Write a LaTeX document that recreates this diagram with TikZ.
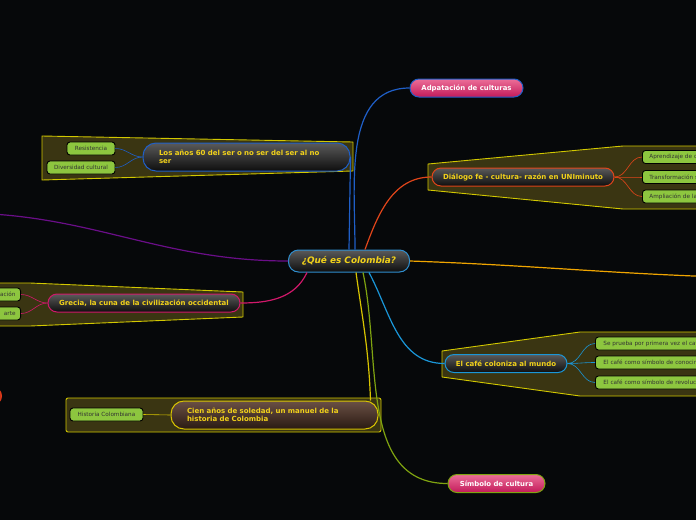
\documentclass[tikz,border=0pt]{standalone}
\usepackage{fontspec}
\setmainfont{DejaVu Sans}
\usepackage{xcolor}
\definecolor{bgblack}{HTML}{06080A}
\definecolor{frameolive}{HTML}{3A3512}
\definecolor{frameyellow}{HTML}{D2C800}
\definecolor{nodetop}{HTML}{5A5A5A}
\definecolor{nodebot}{HTML}{0E0E0E}
\definecolor{cientop}{HTML}{6A5045}
\definecolor{cienbot}{HTML}{2A1A12}
\definecolor{topictext}{HTML}{F2D21A}
\definecolor{leafgreen}{HTML}{8DC63F}
\definecolor{leaftext}{HTML}{333333}
\definecolor{pinktop}{HTML}{EC6E98}
\definecolor{pinkbot}{HTML}{C21A5A}
\definecolor{centerblue}{HTML}{2F8FD0}
\definecolor{adaptblue}{HTML}{1F5FC8}
\definecolor{dialogred}{HTML}{E0451A}
\definecolor{grecmagenta}{HTML}{D0186A}
\definecolor{cienyellow}{HTML}{D8C400}
\definecolor{cafeblue}{HTML}{1A96D8}
\definecolor{simbgreen}{HTML}{7FA310}
\definecolor{purpleline}{HTML}{6A0E88}
\definecolor{orangeline}{HTML}{F0A500}
\definecolor{redstub}{HTML}{E03A1A}
\usepackage{tikz}
\usetikzlibrary{positioning, calc}

\begin{document}
\begin{tikzpicture}[x=1pt, y=-1pt]
    \tikzstyle{topic} = [rounded corners=9pt, line width=1pt, minimum height=18pt, inner xsep=10pt, top color=nodetop, bottom color=nodebot, text=topictext, font=\fontsize{7}{8.5}\selectfont\bfseries]
    \tikzstyle{pinknode} = [rounded corners=9pt, line width=1pt, minimum height=18pt, inner xsep=10pt, top color=pinktop, bottom color=pinkbot, text=white, font=\fontsize{6.9}{8}\selectfont\bfseries]
    \tikzstyle{leafnode} = [rounded corners=3pt, line width=0.9pt, draw=black, fill=leafgreen, minimum height=13pt, inner xsep=5pt, inner ysep=1pt, text=leaftext, font=\fontsize{5.7}{6.5}\selectfont]
    \tikzstyle{frame} = [draw=frameyellow, fill=frameolive, line width=0.9pt, line join=round]
    \tikzstyle{conn} = [line width=1.2pt]
    \tikzstyle{subconn} = [line width=0.6pt]

    \fill[bgblack] (0,0) rectangle (696,520);
    \useasboundingbox (0,0) rectangle (696,520);
    \clip (0,0) rectangle (696,520);

    % group frames
    \draw[frame] (42,136) -- (353,142) -- (353,171) -- (42,180) -- cycle;
    \draw[frame] (428,164) -- (623,146) -- (710,146) -- (710,209) -- (623,209) -- (428,190) -- cycle;
    \draw[frame] (-10,283) -- (30,283) -- (243,292) -- (243,317) -- (30,326) -- (-10,326) -- cycle;
    \draw[frame, rounded corners=2pt] (66,398) rectangle (381,432);
    \draw[frame] (442,351) -- (580,332) -- (710,332) -- (710,396) -- (580,396) -- (442,377) -- cycle;

    % central node
    \node [topic, draw=centerblue, minimum width=121pt, minimum height=22pt, rounded corners=10pt, font=\fontsize{8.9}{10}\selectfont\bfseries\itshape] (central) at (349,261) {¿Qué es Colombia?};

    % main topics
    \node [pinknode, draw=adaptblue, minimum width=113pt] (adapt) at (466.5,88) {Adpatación de culturas};
    \node [topic, draw=adaptblue, minimum height=28pt, rounded corners=13pt, inner xsep=16pt, text width=175pt, align=left] (anos) at (246.5,157) {Los años 60 del ser o no ser del ser al no\\ser};
    \node [topic, draw=dialogred, minimum width=182pt] (dialogo) at (523,177) {Diálogo fe - cultura- razón en UNIminuto};
    \node [topic, draw=grecmagenta, minimum width=192pt] (grecia) at (144,303) {Grecia, la cuna de la civilización occidental};
    \node [topic, draw=cienyellow, top color=cientop, bottom color=cienbot, minimum height=28pt, rounded corners=13pt, inner xsep=16pt, text width=175pt, align=left] (cien) at (274.5,415) {Cien años de soledad, un manuel de la\\historia de Colombia};
    \node [topic, draw=cafeblue, minimum width=122pt] (cafe) at (506,363.5) {El café coloniza al mundo};
    \node [pinknode, draw=simbgreen, minimum width=97pt] (simbolo) at (496.5,483.5) {Símbolo de cultura};
    \node [pinknode, draw=redstub, top color=redstub, bottom color=redstub!80!black, minimum width=60pt, anchor=east] (redtopic) at (2,396) {};

    % leaves
    \node [leafnode, minimum width=48pt] (resist) at (91,148.5) {Resistencia};
    \node [leafnode, minimum width=68pt] (divers) at (81,167.5) {Diversidad cultural};
    \node [leafnode, anchor=west, inner xsep=7pt, text width=80pt, align=left] (aprend) at (642,157) {Aprendizaje de c};
    \node [leafnode, anchor=west, inner xsep=7pt, text width=80pt, align=left] (transf) at (642,177) {Transformación s};
    \node [leafnode, anchor=west, inner xsep=7pt, text width=80pt, align=left] (amplia) at (642,196.5) {Ampliación de la};
    \node [leafnode, anchor=east, text width=60pt, align=right] (grecia1) at (21,294.5) {ación};
    \node [leafnode, anchor=east, text width=60pt, align=right] (grecia2) at (21,313.5) {arte};
    \node [leafnode, minimum width=73pt] (histcol) at (106.5,414.5) {Historia Colombiana};
    \node [leafnode, anchor=west, inner xsep=8pt, text width=130pt, align=left] (cafe1) at (595,343.5) {Se prueba por primera vez el café};
    \node [leafnode, anchor=west, inner xsep=8pt, text width=130pt, align=left] (cafe2) at (595,362.5) {El café como símbolo de conocim};
    \node [leafnode, anchor=west, inner xsep=8pt, text width=130pt, align=left] (cafe3) at (595,382.5) {El café como símbolo de revolució};

    % free ends off the canvas
    \coordinate (purpleend) at (-40,213);
    \coordinate (orangeend) at (720,277);

    % main connectors
    \draw [conn, purpleline] (central.west) to[out=180, in=0] (purpleend);
    \draw [conn, orangeline] (central.east) to[out=-2, in=178] (orangeend);
    \draw [conn, adaptblue] (central.north) -- (anos.east);
    \draw [conn, adaptblue] ([xshift=6pt]central.north) to[out=90, in=180] (adapt.west);
    \draw [conn, dialogred] ([xshift=16pt]central.north) to[out=70, in=180] (dialogo.west);
    \draw [conn, grecmagenta] ([xshift=-42pt]central.south) to[out=-115, in=0] (grecia.east);
    \draw [conn, cienyellow] ([xshift=7pt]central.south) to[out=-82, in=92] ([xshift=-8pt]cien.north east);
    \draw [conn, simbgreen] ([xshift=14pt]central.south) to[out=-78, in=180] (simbolo.west);
    \draw [conn, cafeblue] ([xshift=20pt]central.south) to[out=-62, in=180] (cafe.west);

    % sub connectors
    \foreach \leaf in {resist, divers}
        \draw [subconn, adaptblue] (anos.west) to[out=180, in=0] (\leaf.east);
    \foreach \leaf in {aprend, transf, amplia}
        \draw [subconn, dialogred] (dialogo.east) to[out=0, in=180] (\leaf.west);
    \foreach \leaf in {grecia1, grecia2}
        \draw [subconn, grecmagenta] (grecia.west) to[out=180, in=0] (\leaf.east);
    \foreach \leaf in {cafe1, cafe2, cafe3}
        \draw [subconn, cafeblue] (cafe.east) to[out=0, in=180] (\leaf.west);
    \draw [subconn, cienyellow] (histcol.east) -- (cien.west);

\end{tikzpicture}
\end{document}
